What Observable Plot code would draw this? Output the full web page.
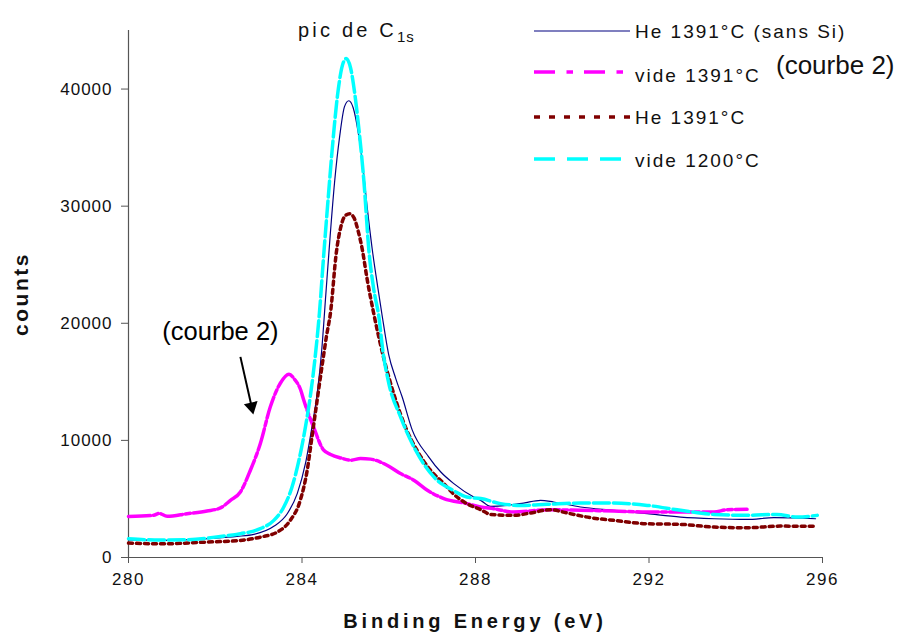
<!DOCTYPE html>
<html><head><meta charset="utf-8">
<script src="https://cdn.jsdelivr.net/npm/d3@7"></script>
<script src="https://cdn.jsdelivr.net/npm/@observablehq/plot@0.6"></script>
<style>
html,body{margin:0;padding:0;background:#fff;}
#chart svg{display:block;}
#chart svg text{font-family:"Liberation Sans",Arial,sans-serif;}
</style></head><body><div id="chart"></div>
<script>
// ---- data (Binding Energy eV, counts) ----
const heSansSi = [[280,1500],[280.5,1480],[281,1470],[281.5,1540],[282,1650],[282.5,1800],[282.89,1970],[283.35,2660],[283.66,3740],[283.89,5450],[284.08,8030],[284.23,11160],[284.35,14000],[284.45,17500],[284.55,22500],[284.65,27500],[284.75,32000],[284.87,36000],[284.98,38500],[285.08,39000],[285.18,38400],[285.3,36200],[285.4,33500],[285.5,30000],[285.62,26300],[285.75,23000],[285.85,20600],[286.0,17300],[286.16,15300],[286.31,13700],[286.54,10900],[286.92,8600],[287.2,7300],[287.5,6310],[287.96,5165],[288.12,4880],[288.35,4370],[288.73,4450],[289.11,4650],[289.5,4880],[289.8,4740],[290.42,4310],[291.19,4030],[291.96,3740],[292.73,3450],[293.5,3310],[294.26,3250],[294.88,3400],[295.84,3310]];
const vide1391 = [[280,3510],[280.58,3600],[280.7,3770],[280.89,3520],[281.35,3740],[281.81,3970],[282.12,4230],[282.35,4880],[282.58,5600],[282.81,7450],[283.04,9740],[283.27,12870],[283.5,14880],[283.7,15650],[283.81,15300],[283.97,14300],[284.04,13450],[284.27,11100],[284.5,9160],[284.66,8800],[284.89,8500],[285.12,8310],[285.35,8450],[285.58,8400],[285.96,7880],[286.27,7170],[286.58,6600],[286.89,5740],[287.27,5030],[287.8,4600],[288.12,4310],[288.42,4170],[288.88,3880],[289.65,4080],[290.42,4030],[291.19,3970],[291.96,3880],[292.73,3880],[293.5,3880],[293.8,4080],[294.26,4110]];
const he1391 = [[280,1230],[280.81,1170],[281.74,1310],[282.58,1460],[283.04,1740],[283.43,2170],[283.73,3170],[283.96,4880],[284.12,7450],[284.23,10300],[284.35,13450],[284.46,16300],[284.56,18800],[284.66,21000],[284.79,26000],[284.9,28300],[285.0,29200],[285.1,29350],[285.2,29000],[285.3,27800],[285.39,26300],[285.5,23800],[285.65,20900],[285.9,16800],[286.16,13450],[286.4,11000],[286.65,9160],[286.95,7500],[287.27,6310],[287.5,5400],[287.8,4600],[288.12,4080],[288.35,3680],[288.88,3600],[289.27,3800],[289.73,4080],[290.11,3800],[290.65,3400],[291.19,3170],[291.96,2880],[292.73,2830],[293.5,2600],[294.26,2540],[295.03,2680],[295.84,2660]];
const vide1200 = [[280,1600],[280.6,1500],[281.35,1515],[282.12,1800],[282.58,2030],[283.04,2460],[283.35,3170],[283.58,4310],[283.77,6020],[283.93,8310],[284.08,11160],[284.2,14000],[284.3,17000],[284.4,20800],[284.5,25800],[284.6,30500],[284.7,35000],[284.82,39500],[284.93,42000],[285.02,42600],[285.12,41800],[285.22,39500],[285.32,36300],[285.43,32000],[285.54,26300],[285.65,23000],[285.77,20600],[285.87,17500],[286.0,14900],[286.27,12020],[286.62,9160],[287.04,6880],[287.5,5700],[287.8,5165],[288.12,5030],[288.58,4600],[289.04,4450],[289.65,4540],[290.42,4650],[291.19,4650],[291.96,4450],[292.73,4030],[293.5,3680],[294.26,3600],[294.95,3680],[295.42,3450],[295.88,3600]];

const seriesNames = ["He 1391°C (sans Si)", "vide 1391°C", "He 1391°C", "vide 1200°C"];
const xTicks = [280, 284, 288, 292, 296];
const yTicks = [0, 10000, 20000, 30000, 40000];
const titleMain = "pic de C";
const titleSub = "1s";
const xLabel = "Binding Energy (eV)";
const yLabel = "counts";
const annotText = [{x: 282.12, y: 19300, text: "(courbe 2)"}];
const arrowTail = [{x: 282.58, y: 17130}];
const arrowHead = [{x: 282.838, y: 12890}];

// ---- styles ----
const styles = [
  {stroke: "#000080", strokeWidth: 1.2, dash: null, legendDash: null, legendWidth: 1.2, x2: 630},
  {stroke: "#ff00ff", strokeWidth: 3.5, dash: "22,3,5,3", legendDash: "21,11.5,6.5,11", legendWidth: 3.3, x2: 623},
  {stroke: "#800000", strokeWidth: 3.5, dash: "4,4", legendDash: "6,9", legendWidth: 3.5, x2: 630},
  {stroke: "#00ffff", strokeWidth: 3.5, dash: "16,4", legendDash: "21,12", legendWidth: 3.3, x2: 621}
];
const seriesData = [heSansSi, vide1391, he1391, vide1200];

const lineMarks = seriesData.map((d, i) => Plot.line(d, {
  x: p => p[0], y: p => p[1],
  stroke: styles[i].stroke, strokeWidth: styles[i].strokeWidth,
  strokeDasharray: styles[i].dash || undefined,
  curve: "monotone-x"
}));

const svg = Plot.plot({
  width: 899, height: 635,
  marginLeft: 128, marginRight: 77, marginTop: 30, marginBottom: 78,
  style: {fontFamily: "'Liberation Sans', Arial, sans-serif", fontSize: "17px", color: "#111", background: "white", overflow: "visible"},
  x: {domain: [280, 296], ticks: xTicks, tickSize: 6, tickPadding: 9, label: null},
  y: {domain: [0, 45000], ticks: yTicks, tickFormat: d3.format("d"), tickSize: 7, tickPadding: 9, label: null},
  marks: [
    Plot.ruleX([280], {stroke: "#555", strokeWidth: 1.2}),
    Plot.ruleY([0], {stroke: "#555", strokeWidth: 1.2}),
    ...lineMarks,
    Plot.link([{a: arrowTail[0], b: arrowHead[0]}], {x1: d => d.a.x, y1: d => d.a.y, x2: d => d.b.x, y2: d => d.b.y, stroke: "black", strokeWidth: 2}),
    Plot.dot(arrowHead, {x: "x", y: "y", symbol: "triangle", r: 5.2, fill: "black", stroke: "none", rotate: 167.35}),
    Plot.text(annotText, {x: "x", y: "y", text: "text", fontSize: 25.5, textAnchor: "middle", fill: "black"})
  ]
});

const s = d3.select(svg);
s.selectAll("g[aria-label*='x-axis'] text").style("letter-spacing", "1.5px");
s.selectAll("g[aria-label*='y-axis'] text").style("letter-spacing", "1px");
s.selectAll("g[aria-label*='axis'] path, g[aria-label*='axis'] line").attr("stroke", "#555");

// title
const t = s.append("text").attr("x", 298).attr("y", 37).attr("text-anchor", "start").attr("font-size", 20).attr("letter-spacing", "3.2px").attr("fill", "#111");
t.append("tspan").text(titleMain);
t.append("tspan").attr("font-size", 15).attr("dy", 5).attr("letter-spacing", "1px").text(titleSub);

// axis titles
s.append("text").attr("x", 475).attr("y", 628).attr("text-anchor", "middle").attr("font-size", 20).attr("font-weight", "bold").attr("letter-spacing", "3.8px").attr("fill", "#111").text(xLabel);
s.append("text").attr("transform", "translate(28,294) rotate(-90)").attr("text-anchor", "middle").attr("font-size", 21).attr("font-weight", "bold").attr("letter-spacing", "2.5px").attr("fill", "#111").text(yLabel);

// legend
const rowLineY = [31, 72, 117, 159];
const rowTextY = [38, 82, 124, 167];
seriesNames.forEach((name, i) => {
  const st = styles[i];
  const ln = s.append("line").attr("x1", 534).attr("x2", st.x2).attr("y1", rowLineY[i]).attr("y2", rowLineY[i])
    .attr("stroke", st.stroke).attr("stroke-width", st.legendWidth);
  if (st.legendDash) ln.attr("stroke-dasharray", st.legendDash);
  s.append("text").attr("x", 635).attr("y", rowTextY[i]).attr("text-anchor", "start").attr("font-size", 19).attr("letter-spacing", "2px").attr("fill", "#111").text(name);
});
s.append("text").attr("x", 776).attr("y", 74).attr("text-anchor", "start").attr("font-size", 26).attr("fill", "#111").text("(courbe 2)");

document.getElementById("chart").appendChild(svg);
</script></body></html>
